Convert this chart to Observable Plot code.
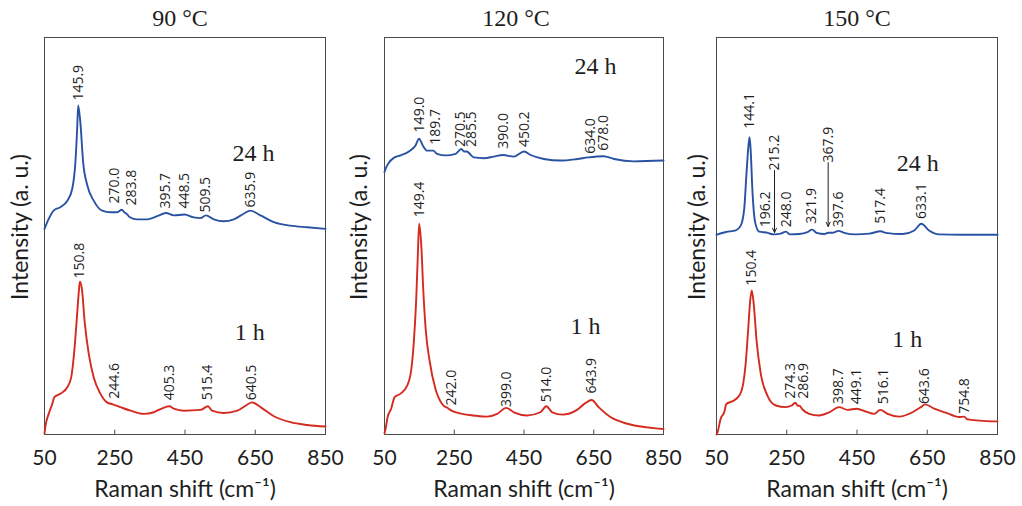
<!DOCTYPE html>
<html>
<head>
<meta charset="utf-8">
<script src="https://cdn.jsdelivr.net/npm/d3@7"></script>
<script src="https://cdn.jsdelivr.net/npm/@observablehq/plot@0.6"></script>
<style>
  body { margin: 0; background: #fff; }
  #chart { position: relative; width: 1022px; height: 506px; }
  #chart svg { position: absolute; top: 0; }
</style>
</head>
<body>
<div id="chart"></div>
<script>
// Raman spectra of samples hydrothermally treated at three temperatures,
// each for 1 h (red) and 24 h (blue). Spectra are [wavenumber cm-1, intensity a.u.].
const xTicks = [50, 250, 450, 650, 850];
const titles = ["90 °C", "120 °C", "150 °C"];
const durations = ["24 h", "1 h"];

const spec90_24h = [[50,51.8],[62,54.3],[76,56.4],[96,57.3],[115,58.9],[129,61.9],[138,68.6],[143,77.0],[145.9,82.9],[152,78.7],[160,68.6],[172,62.7],[190,58.9],[214,56.4],[238,56.0],[257,56.0],[270,56.6],[278,55.9],[283.8,55.6],[292,54.8],[314,54.2],[342,54.2],[371,55.0],[395.7,55.8],[418,55.2],[448.5,55.4],[475,54.7],[494,54.5],[509.5,55.2],[532,54.2],[560,53.7],[589,54.2],[617,55.6],[635.9,56.4],[665,55.2],[703,53.5],[750,52.6],[798,52.2],[850,51.8]];
const spec90_1h = [[50,0.3],[53,2.3],[62,5.2],[72,7.7],[78,9.4],[96,10.3],[115,11.9],[126,14.4],[135,21.2],[143,30.4],[148,36.3],[150.8,38.5],[157,36.3],[164,28.7],[176,20.3],[190,14.4],[209,10.3],[228,8.1],[244.6,7.6],[266,6.9],[295,6.0],[333,5.2],[361,5.6],[385,6.6],[405.3,7.1],[418,6.5],[447,6.0],[494,6.2],[515.4,7.1],[527,6.0],[560,5.4],[599,6.0],[627,7.5],[640.5,8.1],[665,6.9],[703,4.6],[750,3.1],[798,2.4],[850,2.0]];

const spec120_24h = [[50,66.1],[53,66.9],[62,68.4],[77,69.7],[96,70.3],[120,71.3],[139,72.8],[149,74.5],[161,72.6],[172,71.5],[189.7,71.5],[201,70.7],[225,70.3],[254,70.7],[270.5,71.9],[278,71.3],[285.5,71.3],[306,69.8],[335,69.6],[363,70.0],[390,70.4],[421,70.0],[450.2,71.3],[469,70.4],[507,69.4],[555,69.0],[603,69.4],[634,69.8],[678,70.1],[708,69.4],[765,68.8],[850,69.0]];
const spec120_1h = [[50,0.3],[53,1.4],[59,4.4],[69,6.5],[79,9.4],[96,10.3],[115,12.3],[127,16.5],[134,23.2],[141,34.2],[145.5,45.1],[149.4,53.1],[156,46.8],[161,36.7],[168,26.6],[180,18.2],[196,11.5],[215,7.7],[234,6.5],[242,6.0],[273,5.2],[306,4.8],[344,4.5],[373,5.2],[399,6.7],[421,5.6],[459,4.8],[497,5.6],[514,7.1],[531,5.6],[560,5.0],[602,6.2],[626,7.9],[643.9,8.7],[664,6.9],[698,4.4],[746,2.7],[803,1.8],[850,1.4]];

const spec150_24h = [[50,50.3],[77,51.0],[105,51.4],[119,52.6],[129,56.9],[135,65.2],[141,72.8],[144.1,74.9],[147,72.0],[152.5,61.0],[160,53.5],[171.5,51.1],[196.2,50.8],[205,50.5],[215.2,50.4],[233,50.6],[248,51.1],[259,50.4],[285,50.5],[309,51.0],[321.9,51.6],[335,50.8],[357,50.5],[367.9,50.8],[380,50.8],[397.6,51.3],[413,50.8],[446,50.4],[485,50.6],[517.4,51.2],[532,50.8],[580,50.5],[613,51.4],[633.1,53.1],[655,51.4],[684,50.4],[750,50.3],[850,50.3]];
const spec150_1h = [[50,0],[53,0.6],[62,4.0],[72,5.6],[78,7.7],[96,8.4],[115,9.8],[126,12.8],[133,17.8],[140,26.2],[146,33.8],[150.4,36.3],[156,32.9],[164,23.7],[176,15.3],[195,9.8],[219,7.3],[247,6.9],[264,7.3],[274.3,8.0],[281,7.3],[286.9,7.2],[295,6.3],[314,5.2],[342,4.8],[371,5.6],[398.7,6.9],[423,6.2],[449.1,6.5],[475,5.8],[499,5.2],[516.1,6.2],[537,5.2],[570,4.5],[608,5.6],[632,6.9],[643.6,7.6],[670,6.5],[703,5.5],[741,4.4],[754.8,4.5],[765,3.8],[798,3.5],[850,3.3]];

// Assigned band positions and the height at which each label starts
const peaks90_24h = [145.9, 270.0, 283.8, 395.7, 448.5, 509.5, 635.9];
const labelY90_24h = [84.1, 58.2, 57.7, 56.9, 56.9, 55.9, 57.2];
const peaks90_1h = [150.8, 244.6, 405.3, 515.4, 640.5];
const labelY90_1h = [39.3, 9.0, 8.6, 8.6, 8.6];

const peaks120_24h = [149.0, 189.7, 270.5, 285.5, 390.0, 450.2, 634.0, 678.0];
const labelY120_24h = [76.1, 73.0, 72.4, 72.4, 72.0, 72.4, 70.7, 71.5];
const peaks120_1h = [149.4, 242.0, 399.0, 514.0, 643.9];
const labelY120_1h = [54.7, 7.3, 6.9, 8.1, 10.3];

const peaks150_24h = [144.1, 196.2, 215.2, 248.0, 321.9, 367.9, 397.6, 517.4, 633.1];
const labelY150_24h = [77.0, 52.2, 66.5, 52.2, 53.1, 68.5, 52.2, 53.1, 54.3];
const arrowed150_24h = [215.2, 367.9];
const arrowTip150_24h = [50.9, 52.4];
const peaks150_1h = [150.4, 274.3, 286.9, 398.7, 449.1, 516.1, 643.6, 754.8];
const labelY150_1h = [37.5, 9.0, 9.0, 7.7, 7.6, 7.6, 7.7, 5.2];

// Position of the "24 h" / "1 h" captions inside each panel
const captionX = [[645, 634], [655, 626], [623, 593]];
const captionY = [[70.8, 25.8], [92.8, 27.2], [68.2, 23.9]];

const BLUE = "#2a52a3";
const RED = "#d42a20";
const INK = "#1e1e1e";
const SANS = "Lato, 'Open Sans', sans-serif";
const LABEL_FONT = "'Open Sans', sans-serif";
const SERIF = "'Liberation Serif', 'Times New Roman', serif";

const toPoints = (arr) => arr.map(([x, y]) => ({x, y}));
const toLabels = (xs, ys, nudge = {}) =>
  xs.map((x, i) => ({x, y: ys[i], text: x.toFixed(1), dx: nudge[x.toFixed(1)] || 0}));

const panels = [
  {
    left: 0, width: 340, marginLeft: 44, marginRight: 15, titleDx: -5, yLabelDx: -24,
    blue: spec90_24h, red: spec90_1h,
    blueLabels: toLabels(peaks90_24h, labelY90_24h, {"270.0": -7, "283.8": 5}),
    redLabels: toLabels(peaks90_1h, labelY90_1h, {"244.6": 2}),
    arrows: []
  },
  {
    left: 340, width: 340, marginLeft: 44, marginRight: 17, titleDx: -8, yLabelDx: -25,
    blue: spec120_24h, red: spec120_1h,
    blueLabels: toLabels(peaks120_24h, labelY120_24h, {"189.7": 2, "270.5": -1, "285.5": 5, "634.0": 2}),
    redLabels: toLabels(peaks120_1h, labelY120_1h),
    arrows: []
  },
  {
    left: 680, width: 342, marginLeft: 36, marginRight: 25, titleDx: 0, yLabelDx: -19,
    blue: spec150_24h, red: spec150_1h,
    blueLabels: toLabels(peaks150_24h, labelY150_24h, {"196.2": -2}),
    redLabels: toLabels(peaks150_1h, labelY150_1h, {"274.3": -5, "286.9": 4, "516.1": 3}),
    arrows: arrowed150_24h.map((x, i) => ({x, from: labelY150_24h[peaks150_24h.indexOf(x)], to: arrowTip150_24h[i]}))
  }
];

const chart = document.getElementById("chart");

panels.forEach((p, i) => {
  const peakLabel = (labels) =>
    labels.map((d) =>
      Plot.text([d], {
        x: "x", y: "y", text: "text", rotate: -90, dx: d.dx,
        textAnchor: "start", lineAnchor: "middle",
        fontSize: 14, fontFamily: LABEL_FONT, fill: INK
      })
    );

  const svg = Plot.plot({
    width: p.width,
    height: 506,
    marginTop: 37,
    marginBottom: 72,
    marginLeft: p.marginLeft,
    marginRight: p.marginRight,
    style: {background: "transparent", overflow: "visible"},
    x: {domain: [50, 850]},
    y: {domain: [0, 100], axis: null},
    marks: [
      Plot.frame({stroke: "#4a4a4a", strokeWidth: 1}),
      Plot.ruleX(xTicks.slice(1, -1), {y1: 0, y2: 1.1, stroke: "#4a4a4a"}),
      Plot.axisX({
        ticks: xTicks, tickSize: 0, tickPadding: 16, label: null,
        fontSize: 21, fontFamily: SANS, fill: INK, tickFormat: d3.format("d")
      }),
      Plot.line(toPoints(p.red), {x: "x", y: "y", stroke: RED, strokeWidth: 1.9, curve: "monotone-x"}),
      Plot.line(toPoints(p.blue), {x: "x", y: "y", stroke: BLUE, strokeWidth: 1.9, curve: "monotone-x"}),
      ...peakLabel(p.blueLabels),
      ...peakLabel(p.redLabels),
      Plot.arrow(p.arrows, {
        x1: "x", x2: "x", y1: "from", y2: "to",
        stroke: INK, strokeWidth: 1, headLength: 7, headAngle: 50
      }),
      Plot.text(durations.map((t, k) => ({t, x: captionX[i][k], y: captionY[i][k]})), {
        x: "x", y: "y", text: "t", fontSize: 24, fontFamily: SERIF, fill: INK
      }),
      Plot.text([titles[i]], {
        text: (d) => d, frameAnchor: "top", lineAnchor: "middle", dy: -19, dx: p.titleDx,
        fontSize: 24, fontFamily: SERIF, fill: INK
      }),
      Plot.text(["Raman shift (cm\u207B\u00B9)"], {
        text: (d) => d, frameAnchor: "bottom", lineAnchor: "middle", dy: 55,
        fontSize: 23, fontFamily: SANS, fill: INK
      }),
      Plot.text(["Intensity (a. u.)"], {
        text: (d) => d, frameAnchor: "left", textAnchor: "middle", lineAnchor: "middle",
        rotate: -90, dx: p.yLabelDx, dy: -9,
        fontSize: 23, fontFamily: SANS, fill: INK
      })
    ]
  });
  svg.style.left = p.left + "px";
  chart.appendChild(svg);
});
</script>
</body>
</html>
